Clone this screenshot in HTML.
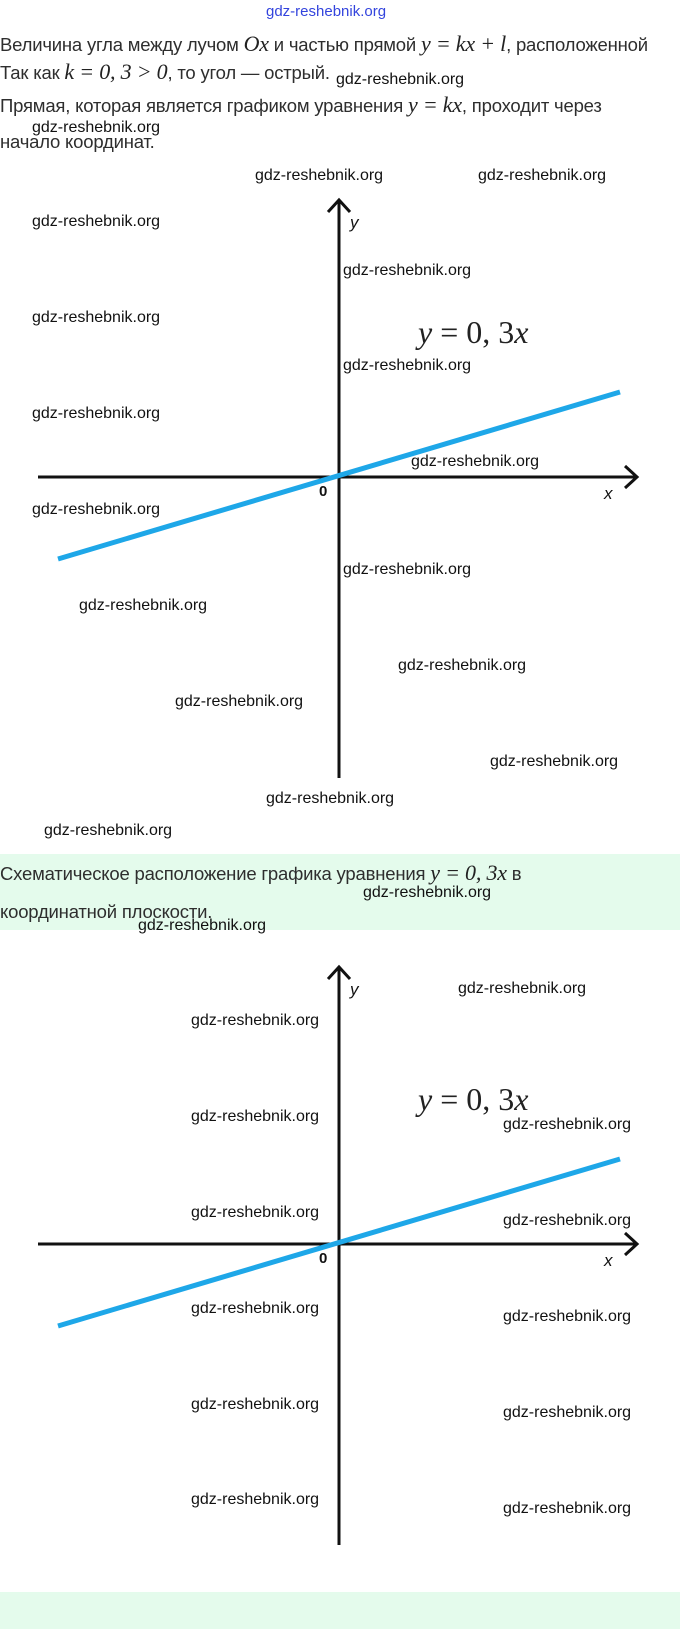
<!DOCTYPE html>
<html><head><meta charset="utf-8"><style>
body{margin:0;width:680px;height:1629px;position:relative;background:#fff;font-family:"Liberation Sans",sans-serif;overflow:hidden}
.t{position:absolute;left:0;font-size:18.5px;color:#2e2e2e;white-space:nowrap;line-height:20px;letter-spacing:-0.2px}
.m{font-family:"Liberation Serif",serif;font-style:italic;font-size:22px;color:#222}
.w{position:absolute;font-size:16px;color:#111;white-space:nowrap;line-height:18px;transform:translateY(-9px)}
.g{position:absolute;left:0;width:680px;background:#e4fbec}
</style></head><body>
<div class="g" style="top:854px;height:76px"></div>
<div class="g" style="top:1592px;height:37px"></div>
<div class="w" style="left:266px;top:12px;color:#3344dd;font-size:15px">gdz-reshebnik.org</div>
<div class="t" style="top:34px">Величина угла между лучом <span class="m">Ox</span> и частью прямой <span class="m">y = kx + l</span>, расположенной</div>
<div class="t" style="top:62px">Так как <span class="m">k = 0, 3 &gt; 0</span>, то угол — острый.</div>
<div class="t" style="top:95px">Прямая, которая является графиком уравнения <span class="m">y = kx</span>, проходит через</div>
<div class="t" style="top:132px">начало координат.</div>
<div class="t" style="top:863px">Схематическое расположение графика уравнения <span class="m">y = 0, 3x</span> в</div>
<div class="t" style="top:902px">координатной плоскости.</div>

<svg style="position:absolute;left:0;top:0" width="680" height="1629">
<g stroke="#111" stroke-width="3" fill="none">
<line x1="339" y1="201" x2="339" y2="778"/><polyline points="328,212 339,200 350,212"/>
<line x1="38" y1="477" x2="637" y2="477"/><polyline points="625,466 637,477 625,488"/>
<line x1="339" y1="968" x2="339" y2="1545"/><polyline points="328,979 339,967 350,979"/>
<line x1="38" y1="1244" x2="637" y2="1244"/><polyline points="625,1233 637,1244 625,1255"/>
</g>
<line x1="58" y1="559" x2="620" y2="392" stroke="#1ea7e8" stroke-width="5"/>
<line x1="58" y1="1326" x2="620" y2="1159" stroke="#1ea7e8" stroke-width="5"/>
<g font-family="Liberation Sans,sans-serif" font-size="17" fill="#111" font-style="italic">
<text x="350" y="228">y</text><text x="604" y="499">x</text>
<text x="350" y="995">y</text><text x="604" y="1266">x</text>
</g>
<g font-family="Liberation Sans,sans-serif" font-size="15" fill="#111" font-weight="bold">
<text x="319" y="496">0</text><text x="319" y="1263">0</text>
</g>
<g font-family="Liberation Serif,serif" font-size="32" fill="#222">
<text x="418" y="343"><tspan font-style="italic">y</tspan> = 0, 3<tspan font-style="italic">x</tspan></text>
<text x="418" y="1110"><tspan font-style="italic">y</tspan> = 0, 3<tspan font-style="italic">x</tspan></text>
</g>
</svg>

<div class="w" style="left:336px;top:80px">gdz-reshebnik.org</div>
<div class="w" style="left:32px;top:128px">gdz-reshebnik.org</div>
<div class="w" style="left:255px;top:176px">gdz-reshebnik.org</div>
<div class="w" style="left:478px;top:176px">gdz-reshebnik.org</div>
<div class="w" style="left:32px;top:222px">gdz-reshebnik.org</div>
<div class="w" style="left:343px;top:271px">gdz-reshebnik.org</div>
<div class="w" style="left:32px;top:318px">gdz-reshebnik.org</div>
<div class="w" style="left:343px;top:366px">gdz-reshebnik.org</div>
<div class="w" style="left:32px;top:414px">gdz-reshebnik.org</div>
<div class="w" style="left:411px;top:462px">gdz-reshebnik.org</div>
<div class="w" style="left:32px;top:510px">gdz-reshebnik.org</div>
<div class="w" style="left:343px;top:570px">gdz-reshebnik.org</div>
<div class="w" style="left:79px;top:606px">gdz-reshebnik.org</div>
<div class="w" style="left:398px;top:666px">gdz-reshebnik.org</div>
<div class="w" style="left:175px;top:702px">gdz-reshebnik.org</div>
<div class="w" style="left:490px;top:762px">gdz-reshebnik.org</div>
<div class="w" style="left:266px;top:799px">gdz-reshebnik.org</div>
<div class="w" style="left:44px;top:831px">gdz-reshebnik.org</div>
<div class="w" style="left:363px;top:893px">gdz-reshebnik.org</div>
<div class="w" style="left:138px;top:926px">gdz-reshebnik.org</div>
<div class="w" style="left:458px;top:989px">gdz-reshebnik.org</div>
<div class="w" style="left:191px;top:1021px">gdz-reshebnik.org</div>
<div class="w" style="left:191px;top:1117px">gdz-reshebnik.org</div>
<div class="w" style="left:503px;top:1125px">gdz-reshebnik.org</div>
<div class="w" style="left:191px;top:1213px">gdz-reshebnik.org</div>
<div class="w" style="left:503px;top:1221px">gdz-reshebnik.org</div>
<div class="w" style="left:191px;top:1309px">gdz-reshebnik.org</div>
<div class="w" style="left:503px;top:1317px">gdz-reshebnik.org</div>
<div class="w" style="left:191px;top:1405px">gdz-reshebnik.org</div>
<div class="w" style="left:503px;top:1413px">gdz-reshebnik.org</div>
<div class="w" style="left:191px;top:1500px">gdz-reshebnik.org</div>
<div class="w" style="left:503px;top:1509px">gdz-reshebnik.org</div>
</body></html>
